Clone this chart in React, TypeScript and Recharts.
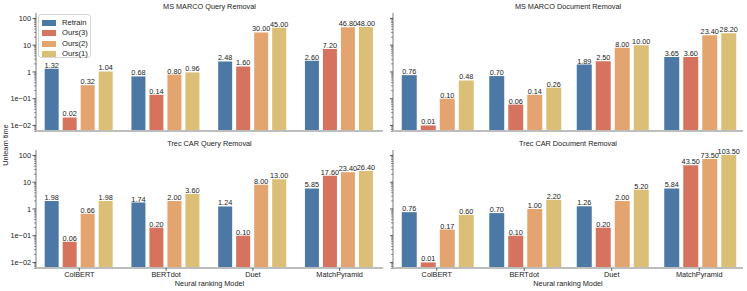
import React from 'react';
import { BarChart, Bar, XAxis, YAxis, LabelList } from 'recharts';

const categories = ['ColBERT', 'BERTdot', 'Duet', 'MatchPyramid'];
const seriesNames = ['Retrain', 'Ours(3)', 'Ours(2)', 'Ours(1)'];
const seriesKeys = ['retrain', 'ours3', 'ours2', 'ours1'];
const seriesColors = ['#4c78a6', '#d6735f', '#e4a46f', '#dbbf77'];

// MS MARCO Query Removal
const mmqRetrain = [1.32, 0.68, 2.48, 2.6];
const mmqOurs3 = [0.02, 0.14, 1.6, 7.2];
const mmqOurs2 = [0.32, 0.8, 30.0, 46.8];
const mmqOurs1 = [1.04, 0.96, 45.0, 48.0];
// MS MARCO Document Removal
const mmdRetrain = [0.76, 0.7, 1.89, 3.65];
const mmdOurs3 = [0.01, 0.06, 2.5, 3.6];
const mmdOurs2 = [0.1, 0.14, 8.0, 23.4];
const mmdOurs1 = [0.48, 0.26, 10.0, 28.2];
// Trec CAR Query Removal
const tcqRetrain = [1.98, 1.74, 1.24, 5.85];
const tcqOurs3 = [0.06, 0.2, 0.1, 17.6];
const tcqOurs2 = [0.66, 2.0, 8.0, 23.4];
const tcqOurs1 = [1.98, 3.6, 13.0, 26.4];
// Trec CAR Document Removal
const tcdRetrain = [0.76, 0.7, 1.26, 5.84];
const tcdOurs3 = [0.01, 0.1, 0.2, 43.5];
const tcdOurs2 = [0.17, 1.0, 2.0, 73.5];
const tcdOurs1 = [0.6, 2.2, 5.2, 103.5];

const majorTicks = [0.01, 0.1, 1, 10, 100];
const majorTickLabels = ['1e\u221202', '1e\u221201', '1', '10', '100'];
const minorTicks = [
  0.006, 0.007, 0.008, 0.009,
  0.02, 0.03, 0.04, 0.05, 0.06, 0.07, 0.08, 0.09,
  0.2, 0.3, 0.4, 0.5, 0.6, 0.7, 0.8, 0.9,
  2, 3, 4, 5, 6, 7, 8, 9,
  20, 30, 40, 50, 60, 70, 80, 90,
];
const allTicks = [...majorTicks, ...minorTicks];
const yDomain = [0.0062, 160];

const FONT = '"Liberation Sans", Arial, Helvetica, sans-serif';
const FS = 7.3;

function buildRows(r: number[], o3: number[], o2: number[], o1: number[]) {
  return categories.map((c, i) => ({ cat: c, retrain: r[i], ours3: o3[i], ours2: o2[i], ours1: o1[i] }));
}

const panels = [
  { title: 'MS MARCO Query Removal', rows: buildRows(mmqRetrain, mmqOurs3, mmqOurs2, mmqOurs1), left: 0, top: 0, width: 390, height: 140, right: 7, yw: 36, showY: true, showX: false },
  { title: 'MS MARCO Document Removal', rows: buildRows(mmdRetrain, mmdOurs3, mmdOurs2, mmdOurs1), left: 390, top: 0, width: 357, height: 140, right: 4, yw: 3, showY: false, showX: false },
  { title: 'Trec CAR Query Removal', rows: buildRows(tcqRetrain, tcqOurs3, tcqOurs2, tcqOurs1), left: 0, top: 137, width: 390, height: 154, right: 7, yw: 36, showY: true, showX: true },
  { title: 'Trec CAR Document Removal', rows: buildRows(tcdRetrain, tcdOurs3, tcdOurs2, tcdOurs1), left: 390, top: 137, width: 357, height: 154, right: 4, yw: 3, showY: false, showX: true },
];

const makeYTick = (showLabel: boolean) => (props: any) => {
  const { x, y, payload } = props;
  const v = payload.value;
  const idx = majorTicks.indexOf(v);
  const major = idx >= 0;
  return (
    <g>
      <line x1={x - (major ? 3.5 : 2)} x2={x} y1={y} y2={y} stroke="#444" strokeWidth={major ? 0.9 : 0.6} />
      {major && showLabel && (
        <text x={x - 5} y={y} dy="0.35em" textAnchor="end" fontSize={FS} fill="#222" fontFamily={FONT}>
          {majorTickLabels[idx]}
        </text>
      )}
    </g>
  );
};

function Panel(p: any) {
  const xh = p.showX ? 23 : 5;
  const mb = p.showX ? 0 : 4;
  return (
    <div style={{ position: 'absolute', left: p.left, top: p.top, width: p.width, height: p.height }}>
      <BarChart
        width={p.width}
        height={p.height}
        data={p.rows}
        margin={{ top: 13, right: p.right, left: 0, bottom: mb }}
        barCategoryGap="10%"
        barGap={4}
      >
        <XAxis
          dataKey="cat"
          height={xh}
          interval={0}
          tickSize={3}
          tickMargin={1}
          tickLine={{ stroke: '#444', strokeWidth: 0.8 }}
          axisLine={{ stroke: '#bdbdbd', strokeWidth: 2 }}
          tick={p.showX ? { fontSize: FS, fill: '#222', fontFamily: FONT } : false}
        />
        <YAxis
          type="number"
          scale="log"
          domain={yDomain}
          allowDataOverflow
          ticks={allTicks}
          interval={0}
          width={p.yw}
          tickSize={0}
          tickMargin={0}
          tickLine={false}
          axisLine={{ stroke: '#bdbdbd', strokeWidth: 2 }}
          tick={makeYTick(p.showY)}
        />
        {seriesKeys.map((k, i) => (
          <Bar key={k} dataKey={k} fill={seriesColors[i]} isAnimationActive={false}>
            <LabelList
              dataKey={k}
              position="top"
              offset={1}
              formatter={(v: any) => Number(v).toFixed(2)}
              style={{ fontSize: FS, fill: '#222', fontFamily: FONT }}
            />
          </Bar>
        ))}
      </BarChart>
      <div
        style={{
          position: 'absolute',
          left: p.yw,
          width: p.width - p.yw - p.right,
          top: 2,
          textAlign: 'center',
          fontSize: FS,
          color: '#222',
          fontFamily: FONT,
          lineHeight: '10px',
        }}
      >
        {p.title}
      </div>
      {p.showX && (
        <div
          style={{
            position: 'absolute',
            left: p.yw,
            width: p.width - p.yw - p.right,
            top: 142,
            textAlign: 'center',
            fontSize: FS,
            color: '#222',
            fontFamily: FONT,
            lineHeight: '10px',
          }}
        >
          Neural ranking Model
        </div>
      )}
    </div>
  );
}

function Legend() {
  return (
    <div
      style={{
        position: 'absolute',
        left: 38,
        top: 14,
        width: 53,
        height: 44,
        border: '1px solid #d6d6d6',
        borderRadius: 3,
        background: 'rgba(255,255,255,0.85)',
        fontFamily: FONT,
        fontSize: 7.6,
        color: '#222',
        boxSizing: 'border-box',
      }}
    >
      {seriesNames.map((n, i) => (
        <div key={n} style={{ position: 'absolute', left: 3, top: 3 + i * 10.3, height: 10, width: 50 }}>
          <div style={{ position: 'absolute', left: 0, top: 2, width: 14, height: 6, background: seriesColors[i] }} />
          <div style={{ position: 'absolute', left: 20, top: 0, lineHeight: '10px', whiteSpace: 'nowrap' }}>{n}</div>
        </div>
      ))}
    </div>
  );
}

export default function App() {
  return (
    <div style={{ position: 'absolute', left: 0, top: 0, width: 747, height: 291, background: '#fff', overflow: 'hidden' }}>
      {panels.map((p) => (
        <Panel key={p.title} {...p} />
      ))}
      <Legend />
      <div
        style={{
          position: 'absolute',
          left: 6 - 30,
          top: 145 - 5,
          width: 60,
          height: 10,
          lineHeight: '10px',
          textAlign: 'center',
          transform: 'rotate(-90deg)',
          fontSize: FS,
          color: '#222',
          fontFamily: FONT,
          whiteSpace: 'nowrap',
        }}
      >
        Unlearn time
      </div>
    </div>
  );
}
